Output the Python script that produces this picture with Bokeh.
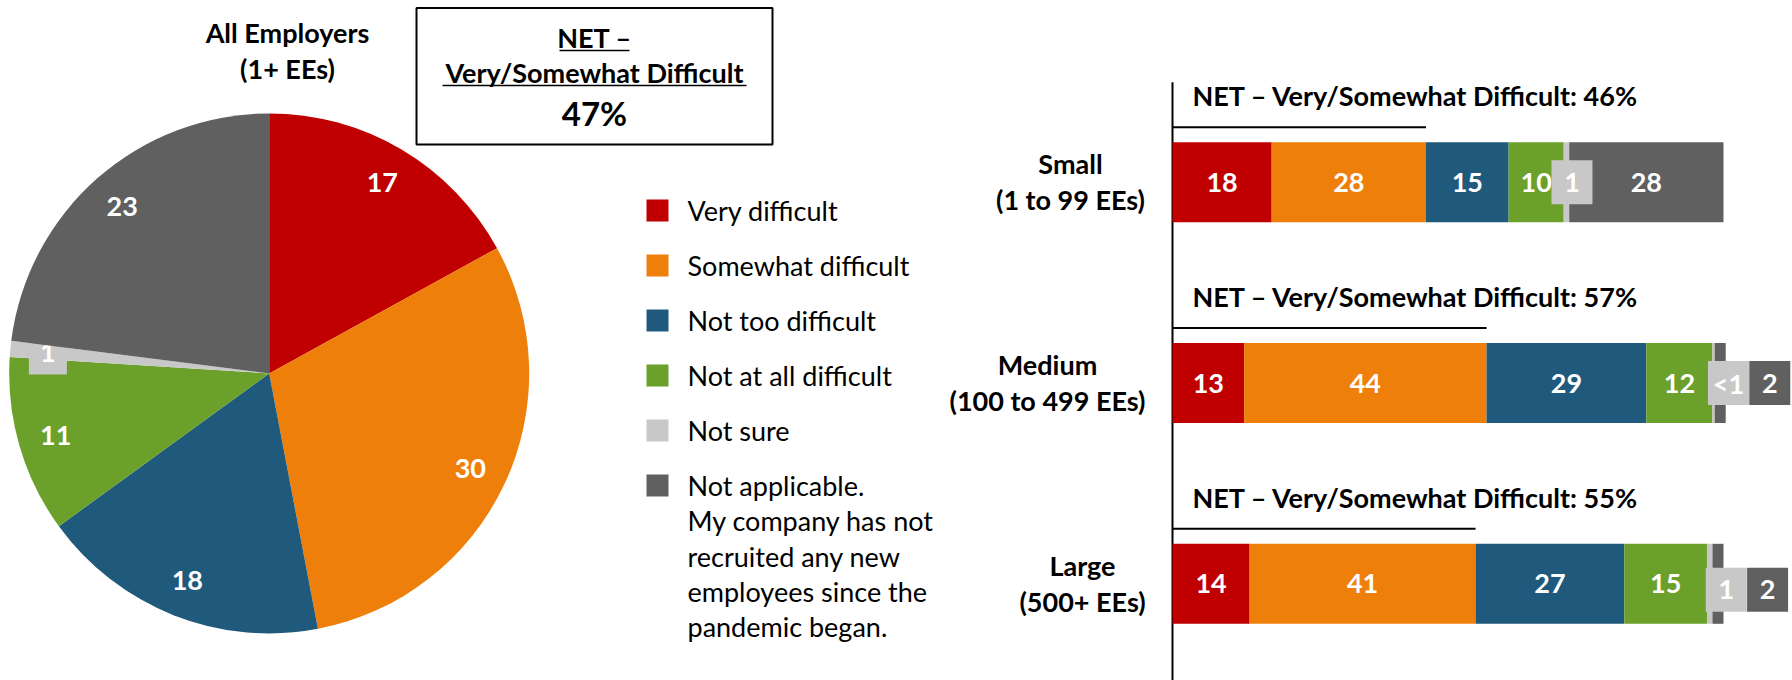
import math
from bokeh.plotting import figure
from bokeh.models import Range1d
from bokeh.embed import file_html
from bokeh.resources import INLINE
from bokeh.core.properties import value

# ---------------- data ----------------
answers = ["Very difficult", "Somewhat difficult", "Not too difficult",
           "Not at all difficult", "Not sure",
           "Not applicable.\nMy company has not\nrecruited any new\nemployees since the\npandemic began."]
colors = ["#C00000", "#EF7F0B", "#1F5A7C", "#6BA02A", "#C8C8C8", "#606060"]

all_employers = [17, 30, 18, 11, 1, 23]
all_title = "All Employers\n(1+ EEs)"
all_net_title = ["NET \u2013", "Very/Somewhat Difficult"]
all_net = 47

groups = ["Small\n(1 to 99 EEs)", "Medium\n(100 to 499 EEs)", "Large\n(500+ EEs)"]
small = [18, 28, 15, 10, 1, 28]
medium = [13, 44, 29, 12, 0.4, 2]
large = [14, 41, 27, 15, 1, 2]
small_labels = ["18", "28", "15", "10", "1", "28"]
medium_labels = ["13", "44", "29", "12", "<1", "2"]
large_labels = ["14", "41", "27", "15", "1", "2"]
group_net = [46, 57, 55]
net_prefix = "NET \u2013 Very/Somewhat Difficult: "

# ---------------- style / layout ----------------
W, H = 1792, 680
FONT = value("Lato")
WHITE = "#FFFFFF"
BOLD_SIZE = "27px"

p = figure(width=W, height=H, x_range=Range1d(0, W), y_range=Range1d(H, 0),
           output_backend="svg", toolbar_location=None,
           x_axis_location=None, y_axis_location=None,
           min_border=0, outline_line_color=None, background_fill_color="white")
p.grid.visible = False

# ----- pie -----
CX, CY, R = 268.7, 372.9, 260
LABEL_R = 0.855 * R
total = sum(all_employers)
cum = 0
for v, c in zip(all_employers, colors):
    a0 = math.pi / 2 - 2 * math.pi * cum / total
    a1 = math.pi / 2 - 2 * math.pi * (cum + v) / total
    p.wedge(x=CX, y=CY, radius=R, start_angle=a0, end_angle=a1,
            direction="clock", fill_color=c, line_color=None)
    mid = 2 * math.pi * (cum + v / 2) / total
    lx = CX + LABEL_R * math.sin(mid)
    ly = CY - LABEL_R * math.cos(mid)
    if v < 5:
        p.rect(x=lx, y=ly, width=38, height=44, fill_color=c, line_color=None)
    p.text(x=[lx], y=[ly], text=[str(v)], text_font=FONT, text_font_style="bold",
           text_font_size=BOLD_SIZE, text_color=WHITE, text_align="center",
           text_baseline="middle")
    cum += v

for k, line in enumerate(all_title.split("\n")):
    p.text(x=[287], y=[32 + 36 * k], text=[line], text_font=FONT, text_font_style="bold",
           text_font_size=BOLD_SIZE, text_color="black", text_align="center",
           text_baseline="middle")

# ----- NET box -----
p.quad(left=416, right=772, top=7.5, bottom=144, fill_color=None,
       line_color="black", line_width=2)
BOX_X = 594
p.text(x=[BOX_X], y=[37], text=[all_net_title[0]], text_font=FONT, text_font_style="bold",
       text_font_size=BOLD_SIZE, text_color="black", text_align="center", text_baseline="middle")
p.text(x=[BOX_X], y=[72], text=[all_net_title[1]], text_font=FONT, text_font_style="bold",
       text_font_size=BOLD_SIZE, text_color="black", text_align="center", text_baseline="middle")
p.text(x=[BOX_X], y=[112], text=[f"{all_net}%"], text_font=FONT, text_font_style="bold",
       text_font_size="33px", text_color="black", text_align="center", text_baseline="middle")
p.segment(x0=[559, 442], y0=[50, 85], x1=[629, 746], y1=[50, 85],
          line_color="black", line_width=1.5)

# ----- legend -----
LEG_X, LEG_Y0, LEG_DY, LEG_LINE = 657, 210, 55, 35.25
for i, (a, c) in enumerate(zip(answers, colors)):
    yy = LEG_Y0 + LEG_DY * i
    p.rect(x=LEG_X, y=yy, width=22, height=22, fill_color=c, line_color=None)
    for k, line in enumerate(a.split("\n")):
        p.text(x=[LEG_X + 30], y=[yy + LEG_LINE * k], text=[line], text_font=FONT,
               text_font_size="27px", text_color="black", text_align="left",
               text_baseline="middle")

# ----- stacked bars -----
K = 5.51          # px per percent
ZERO = 1172       # px position of 0%
S = 200.8         # px between group rows
ROW0 = 181.7      # px centre of first row
BAR_H = 80
p.extra_x_ranges = {"pct": Range1d(-ZERO / K, (W - ZERO) / K)}
p.extra_y_ranges = {"cat": Range1d((H - ROW0) / S, -ROW0 / S)}

p.segment(x0=[0], y0=[81.7], x1=[0], y1=[H], x_range_name="pct",
          line_color="black", line_width=2)

series = [small, medium, large]
labels = [small_labels, medium_labels, large_labels]
callout_mode = ["inline", "outside", "outside"]
callout_dy = [0, 0, 6]
label_cx = [1070, 1047, 1082]

for i, (vals, labs) in enumerate(zip(series, labels)):
    left = 0
    lefts, rights = [], []
    for v in vals:
        lefts.append(left)
        rights.append(left + v)
        left += v
    p.hbar(y=[i] * len(vals), left=lefts, right=rights, height=BAR_H / S,
           fill_color=colors, line_color=None, x_range_name="pct", y_range_name="cat")
    end = rights[-1]
    n_out = 0
    for j, (v, lab) in enumerate(zip(vals, labs)):
        cx = (lefts[j] + rights[j]) / 2
        cy = i
        if v < 5:
            if callout_mode[i] == "inline":
                cx = cx + 1.0
            else:
                cx = end + 0.5 + 7.5 * n_out
                cy = i + callout_dy[i] / S
                n_out += 1
            p.rect(x=cx, y=cy, width=41, height=44, width_units="screen",
                   height_units="screen", fill_color=colors[j], line_color=None,
                   x_range_name="pct", y_range_name="cat")
        p.text(x=[cx], y=[cy], text=[lab], text_font=FONT, text_font_style="bold",
               text_font_size=BOLD_SIZE, text_color=WHITE, text_align="center",
               text_baseline="middle", x_range_name="pct", y_range_name="cat")
    # NET header and underline
    p.text(x=[0], y=[i - 86.7 / S], x_offset=20, text=[f"{net_prefix}{group_net[i]}%"],
           text_font=FONT, text_font_style="bold", text_font_size=BOLD_SIZE,
           text_color="black", text_align="left", text_baseline="middle",
           x_range_name="pct", y_range_name="cat")
    p.segment(x0=[0], y0=[i - 55 / S], x1=[group_net[i]], y1=[i - 55 / S],
              line_color="black", line_width=2, x_range_name="pct", y_range_name="cat")
    # group label
    l1, l2 = groups[i].split("\n")
    p.text(x=[label_cx[i]], y=[i - 18.5 / S], text=[l1], text_font=FONT,
           text_font_style="bold", text_font_size=BOLD_SIZE, text_color="black",
           text_align="center", text_baseline="middle", y_range_name="cat")
    p.text(x=[label_cx[i]], y=[i + 17.5 / S], text=[l2], text_font=FONT,
           text_font_style="bold", text_font_size=BOLD_SIZE, text_color="black",
           text_align="center", text_baseline="middle", y_range_name="cat")

open("out.html", "w").write(file_html(p, INLINE))
